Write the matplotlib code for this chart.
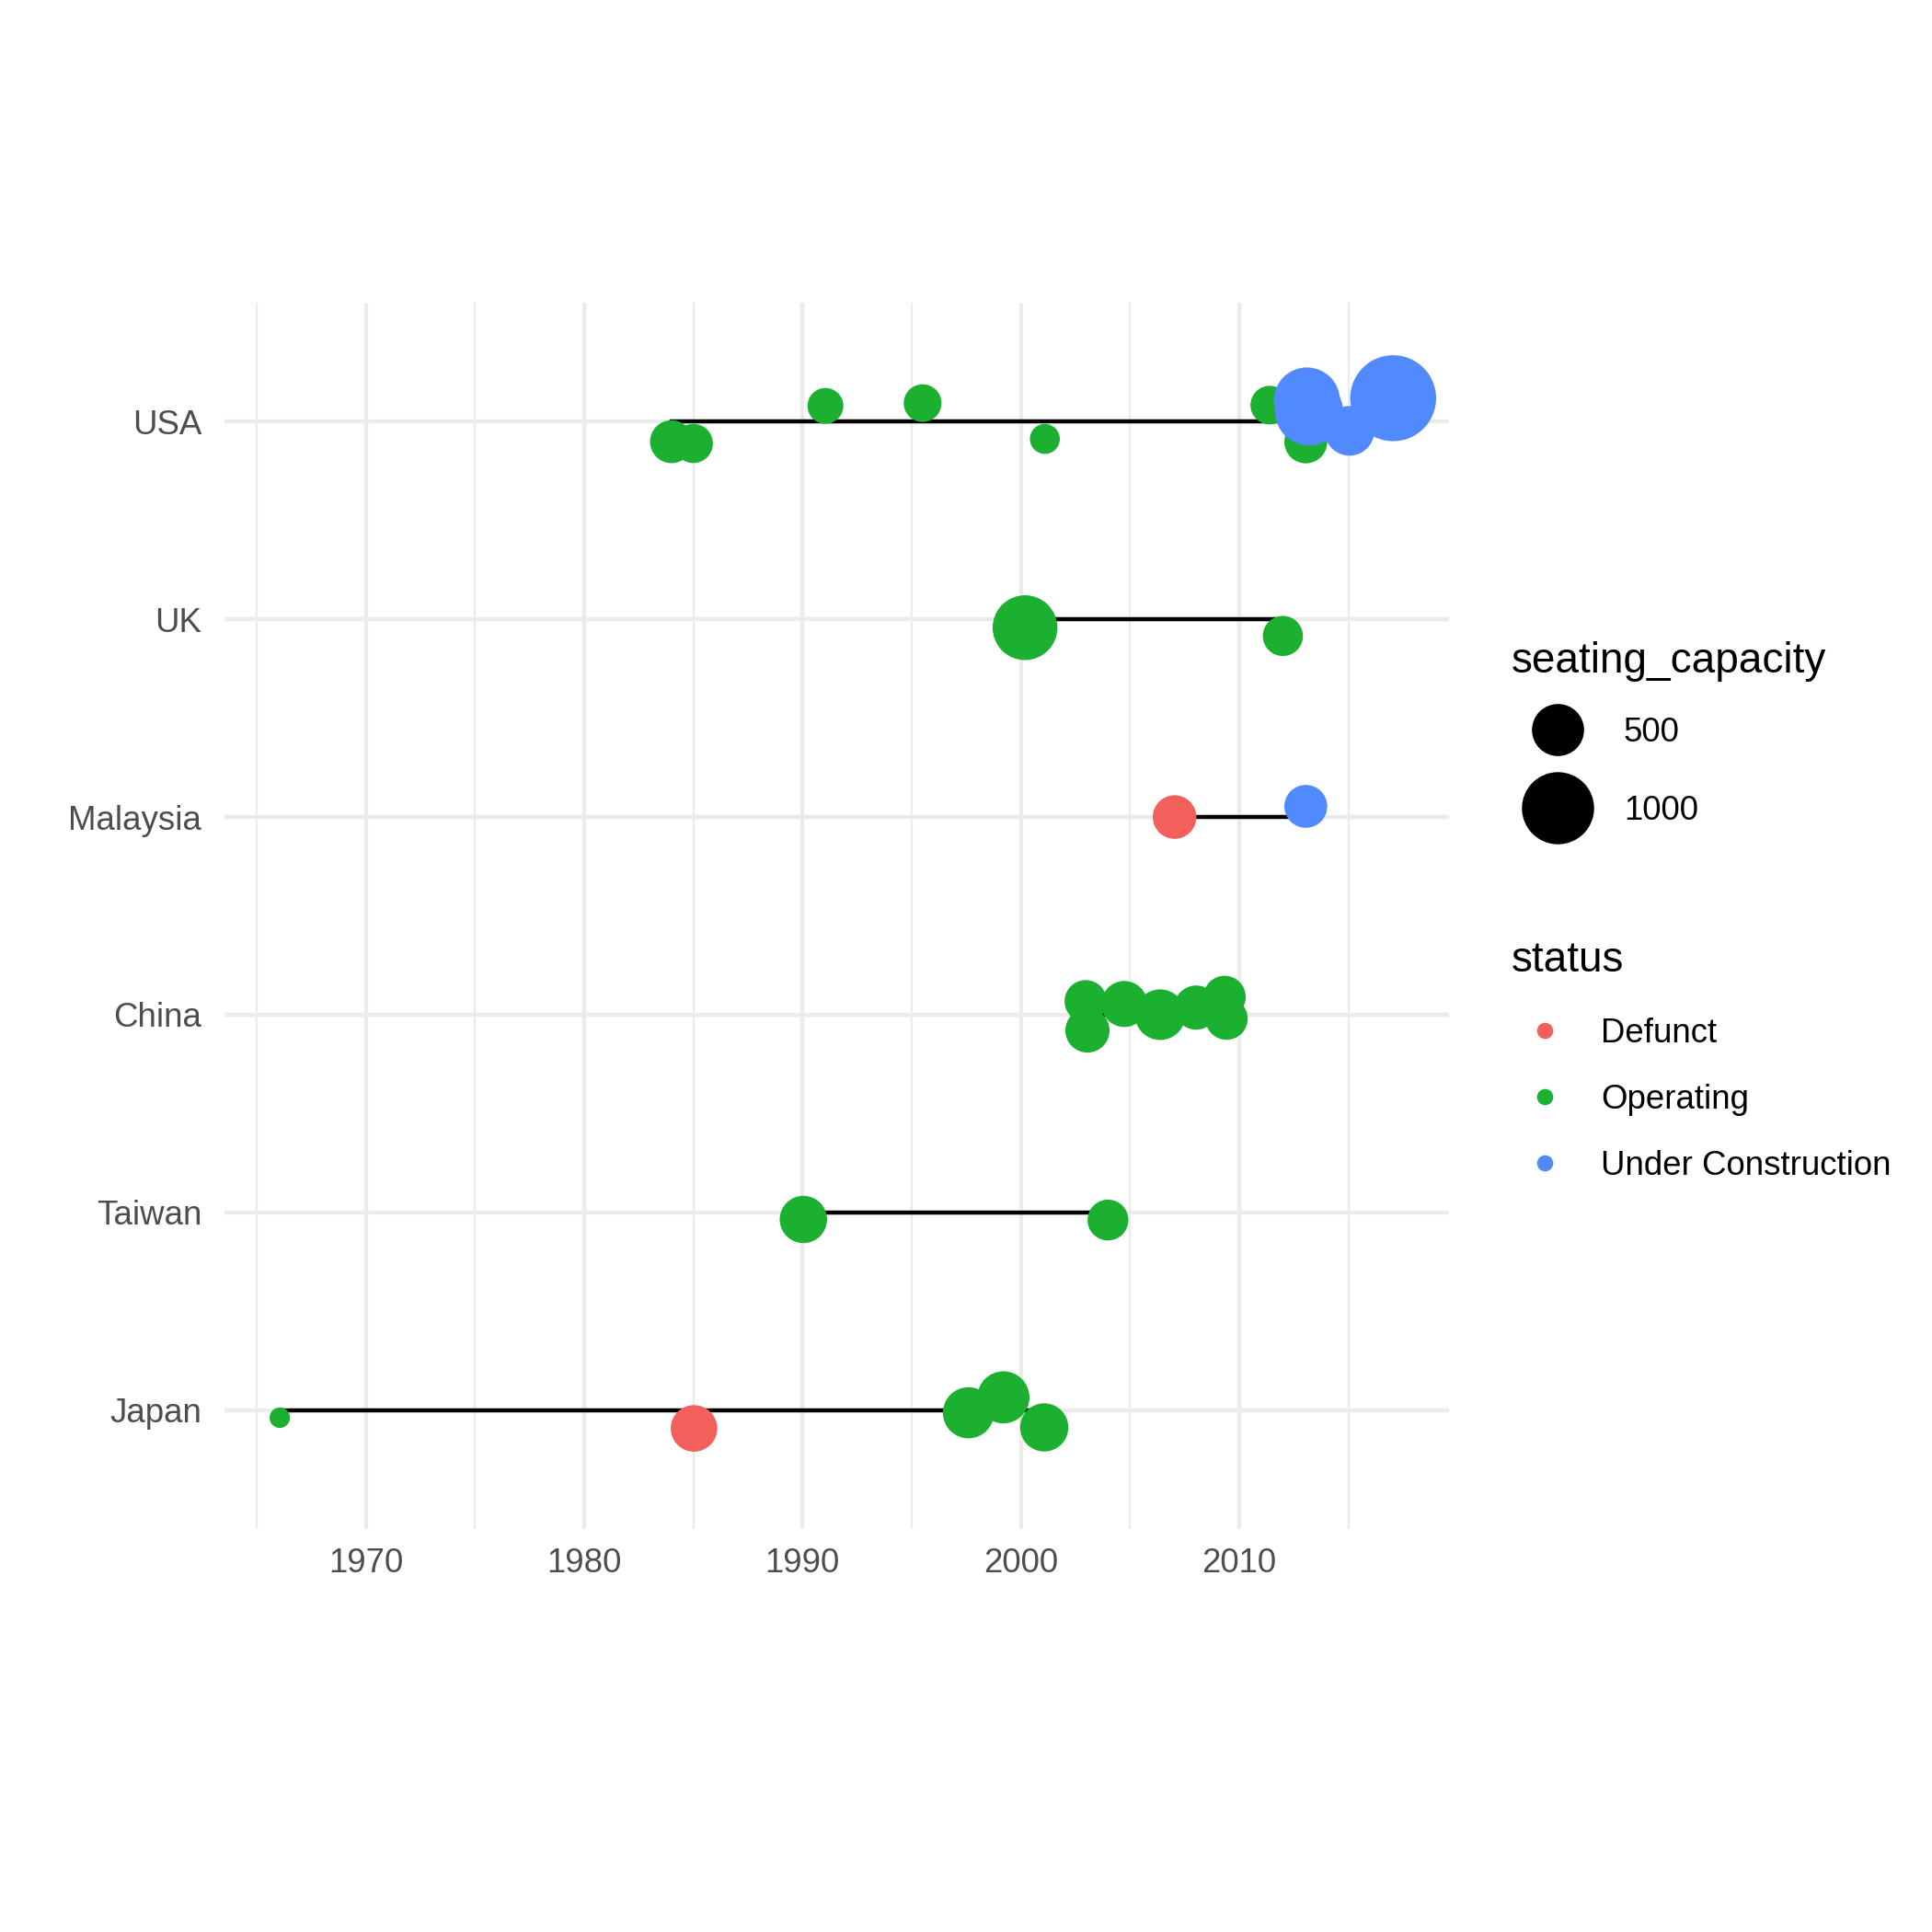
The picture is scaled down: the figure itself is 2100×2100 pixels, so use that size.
#!/usr/bin/env python3
'''
Dot timeline of venues by country: year vs country, sized by seating capacity.
'''

import numpy as np
import matplotlib.pyplot as plt

plt.rcParams['font.family'] = ['Liberation Sans', 'DejaVu Sans']

## data (rows bottom -> top)
countries = ["Japan", "Taiwan", "China", "Malaysia", "UK", "USA"]
statuses = ["Defunct", "Operating", "Under Construction"]
status_colors = ["#F3605C", "#1BB02F", "#5189FF"]

country = ["Japan", "Japan", "Japan", "Japan", "Japan",
           "Taiwan", "Taiwan",
           "China", "China", "China", "China", "China", "China", "China",
           "Malaysia", "Malaysia",
           "UK", "UK",
           "USA", "USA", "USA", "USA", "USA", "USA", "USA",
           "USA", "USA", "USA", "USA"]
year = [1966.06, 1985.03, 1997.6, 1999.2, 2001.07,
        1990.04, 2003.99,
        2002.97, 2003.05, 2004.74, 2006.38, 2008.03, 2009.33, 2009.42,
        2007.04, 2013.05,
        2000.19, 2012.0,
        1984.0, 1985.0, 1991.05, 1995.5, 2001.1, 2011.4, 2013.05,
        2013.1, 2013.2, 2015.05, 2017.05]
jitter = [-0.039, -0.093, -0.014, 0.064, -0.088,
          -0.036, -0.039,
          0.068, -0.08, 0.054, 0.0, 0.036, 0.09, -0.02,
          0.0, 0.054,
          -0.042, -0.084,
          -0.101, -0.11, 0.08, 0.094, -0.087, 0.084, -0.102,
          0.107, 0.052, -0.046, 0.119]
seating_capacity = [200, 404, 482, 500, 431,
                    416, 325,
                    343, 369, 396, 472, 369, 343, 343,
                    361, 351,
                    788, 316,
                    351, 305, 271, 290, 227, 299, 351,
                    827, 879, 456, 1482]
status = ["Operating", "Defunct", "Operating", "Operating", "Operating",
          "Operating", "Operating",
          "Operating", "Operating", "Operating", "Operating", "Operating", "Operating", "Operating",
          "Defunct", "Under Construction",
          "Operating", "Operating",
          "Operating", "Operating", "Operating", "Operating", "Operating", "Operating", "Operating",
          "Under Construction", "Under Construction", "Under Construction", "Under Construction"]
size_breaks = [500, 1000]

DPI = 300
year = np.array(year)
cap = np.array(seating_capacity)
row = np.array([countries.index(c) + 1 for c in country])
ypos = row + np.array(jitter)
cmin, cmax = cap.min(), cap.max()


def marker_area(v):
    # area-style size scale, radius in px -> scatter area in pt^2
    r_px = 11.1 + 35.6 * np.sqrt((np.asarray(v, float) - cmin) / (cmax - cmin))
    return (2 * r_px * 72 / DPI) ** 2


fig = plt.figure(figsize=(7, 7), dpi=DPI)
ax = fig.add_axes([0.116, 0.2088, 0.7499 - 0.116, 0.8431 - 0.2088])

## grid
for sp in ax.spines.values():
    sp.set_visible(False)
ax.set_xticks(np.arange(1970, 2011, 10))
ax.set_xticks(np.arange(1965, 2016, 10), minor=True)
ax.set_yticks(range(1, len(countries) + 1))
ax.set_yticklabels(countries)
ax.grid(which='major', color='#EBEBEB', linewidth=1.07)
ax.grid(which='minor', axis='x', color='#EBEBEB', linewidth=0.53)
ax.set_axisbelow(True)
ax.tick_params(which='both', length=0, labelsize=8.8, labelcolor='#4D4D4D')
ax.tick_params(axis='y', pad=5.9)
ax.tick_params(axis='x', pad=5)

## segments: first to last year per country
for i, c in enumerate(countries):
    yrs = year[row == i + 1]
    ax.plot([yrs.min(), yrs.max()], [i + 1, i + 1], color='black', linewidth=1.07, zorder=2)

## points
cols = [status_colors[statuses.index(s)] for s in status]
ax.scatter(year, ypos, s=marker_area(cap), c=cols, linewidths=0, zorder=3)

span = year.max() - year.min()
ax.set_xlim(year.min() - 0.05 * span, year.max() + 0.05 * span)
ax.set_ylim(0.4, len(countries) + 0.6)

## legends (drawn in figure pixel space)
lax = fig.add_axes([0, 0, 1, 1], facecolor='none')
lax.set_xlim(0, 2100)
lax.set_ylim(2100, 0)
lax.axis('off')

lax.text(1643, 731, "seating_capacity", fontsize=11, va='baseline', ha='left')
for b, yk in zip(size_breaks, [793, 878]):
    lax.scatter([1693], [yk], s=marker_area(b), color='black', linewidths=0)
    lax.text(1765, yk + 13, str(b), fontsize=8.8, va='baseline', ha='left')

lax.text(1643, 1056, "status", fontsize=11, va='baseline', ha='left')
for s, col, yk in zip(statuses, status_colors, [1120, 1192, 1264]):
    lax.scatter([1679], [yk], s=(2 * 8.8 * 72 / DPI) ** 2, color=col, linewidths=0)
    lax.text(1740, yk + 13, s, fontsize=8.8, va='baseline', ha='left')

plt.savefig('out.png', dpi=DPI, facecolor='white')
